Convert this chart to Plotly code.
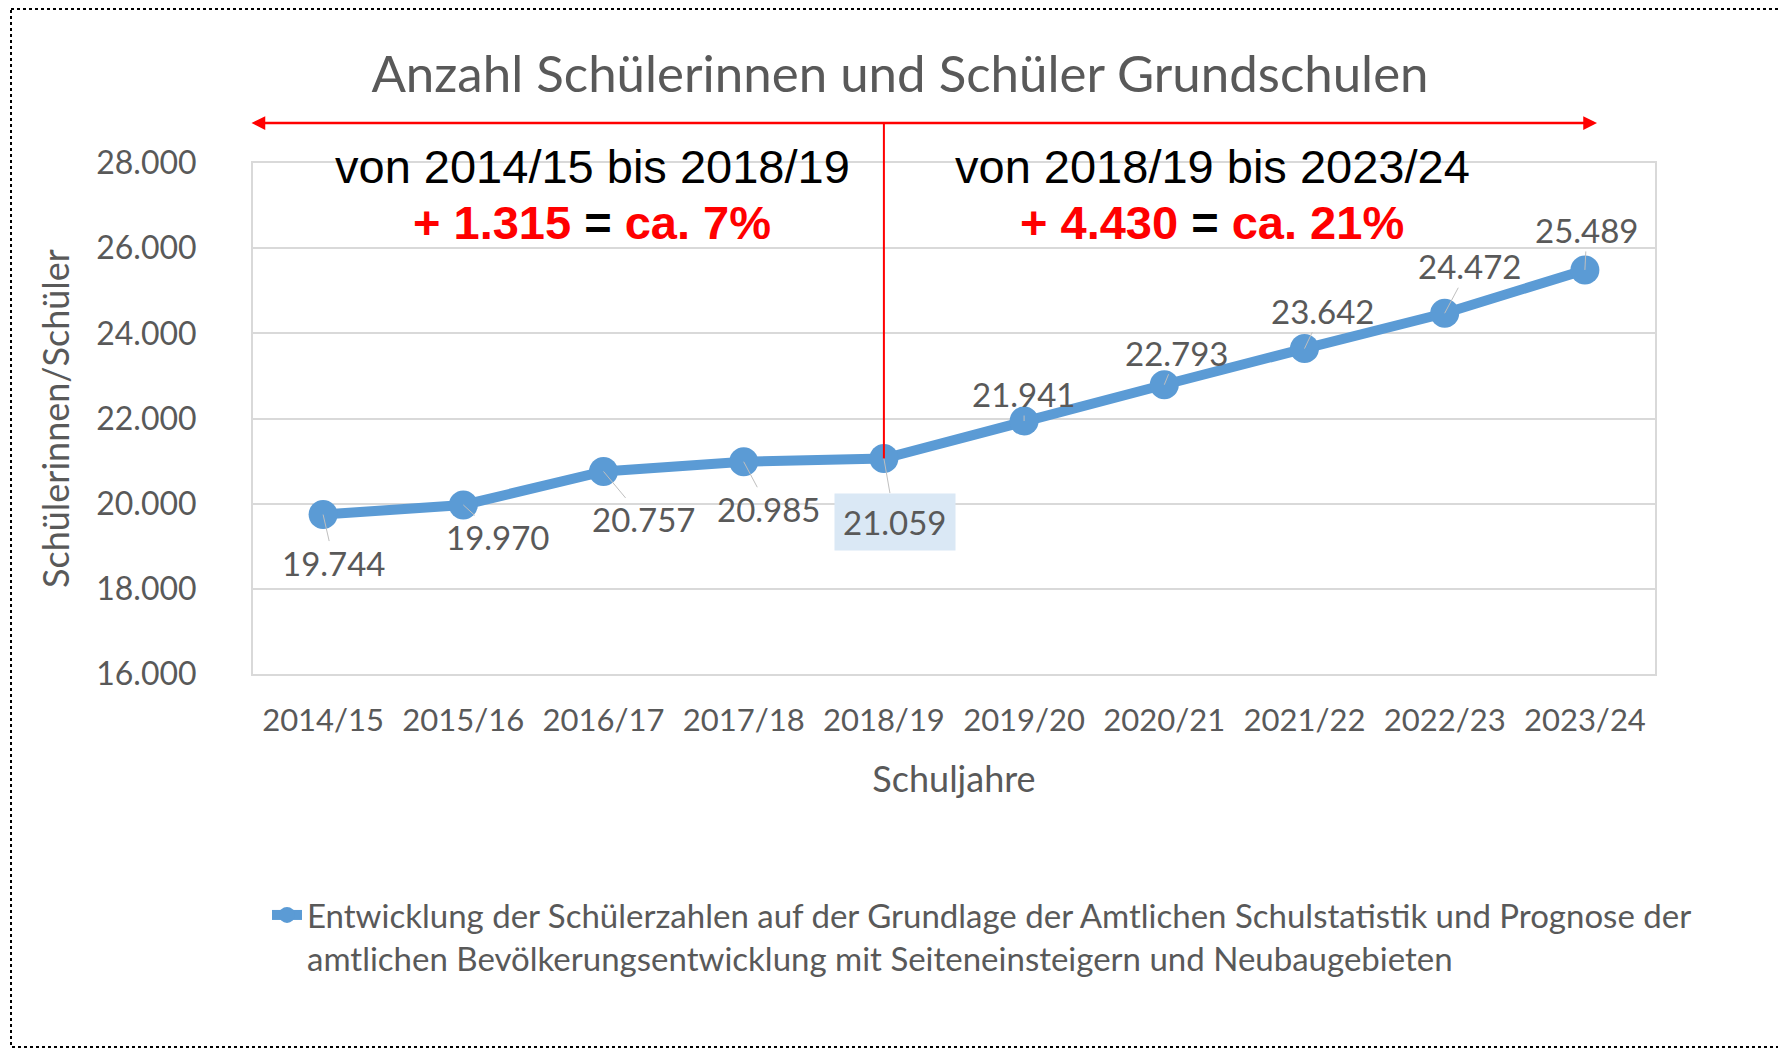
import plotly.graph_objects as go

# ---------------------------------------------------------------------------
# Data
# ---------------------------------------------------------------------------
schuljahre = ["2014/15", "2015/16", "2016/17", "2017/18", "2018/19",
              "2019/20", "2020/21", "2021/22", "2022/23", "2023/24"]
schueler = [19744, 19970, 20757, 20985, 21059, 21941, 22793, 23642, 24472, 25489]
label_text = ["19.744", "19.970", "20.757", "20.985", "21.059",
              "21.941", "22.793", "23.642", "24.472", "25.489"]
y_ticks = [16000, 18000, 20000, 22000, 24000, 26000, 28000]
y_ticktext = ["16.000", "18.000", "20.000", "22.000", "24.000", "26.000", "28.000"]

left_head = "von 2014/15 bis 2018/19"
left_delta = "+ 1.315"
left_pct = "ca. 7%"
right_head = "von 2018/19 bis 2023/24"
right_delta = "+ 4.430"
right_pct = "ca. 21%"

series_name = ("Entwicklung der Schülerzahlen auf der Grundlage der Amtlichen Schulstatistik und Prognose der<br>"
               "amtlichen Bevölkerungsentwicklung mit Seiteneinsteigern und Neubaugebieten")

# ---------------------------------------------------------------------------
# Layout helpers (page pixel -> paper); the page body adds an 8px offset
# ---------------------------------------------------------------------------
W, H = 1786, 1051
OFF = 8
ML, MR, MT, MB = 245, 139, 155, 385
PW, PH = W - ML - MR, H - MT - MB


def px(x):
    return (x - OFF - ML) / PW


def py(y):
    return (H - MB - (y - OFF)) / PH


BLUE = "#5b9bd5"
GREY = "#595959"
GRID = "#d9d9d9"
RED = "#ff0000"
FONT = "Lato"
ARIAL = "Liberation Sans, Arial"

fig = go.Figure()
fig.add_trace(go.Scatter(
    x=schuljahre, y=schueler,
    mode="lines+markers",
    line=dict(color=BLUE, width=10),
    marker=dict(color=BLUE, size=29),
    name=series_name,
    showlegend=True,
))

# data labels (offsets in pixels, as placed in the original)
offsets = [(11, 48), (35, 32), (40, 48), (25, 47), (11, 63),
           (0, -27), (13, -32), (18, -38), (25, -47), (2, -40)]
for xc, yv, txt, (dx, dy) in zip(schuljahre, schueler, label_text, offsets):
    boxed = xc == "2018/19"
    fig.add_annotation(
        x=xc, y=yv, text=txt, showarrow=True,
        ax=dx, ay=dy, arrowhead=0, arrowwidth=1, arrowcolor="#bfbfbf",
        font=dict(family=FONT, size=33, color=GREY),
        bgcolor="#dae8f5" if boxed else None,
        borderpad=8 if boxed else 1,
    )

# red double arrow above the chart
fig.add_annotation(
    x=px(1597), y=py(123), xref="paper", yref="paper",
    ax=-(1597 - 250), ay=0, axref="pixel", ayref="pixel",
    text="", showarrow=True, arrowhead=2, arrowside="end+start",
    arrowsize=1.1, arrowwidth=2.5, arrowcolor=RED,
)
# vertical red divider at 2018/19
i_split = schuljahre.index("2018/19")
x_split = (i_split + 0.5) / len(schuljahre)
y_split = (schueler[i_split] - y_ticks[0]) / (y_ticks[-1] - y_ticks[0])
fig.add_shape(type="line", xref="paper", yref="paper",
              x0=x_split, x1=x_split, y0=y_split, y1=py(123),
              line=dict(color=RED, width=2))

# period annotations
for cx, head, delta, pct in [(592, left_head, left_delta, left_pct),
                             (1212, right_head, right_delta, right_pct)]:
    fig.add_annotation(x=px(cx), y=py(166), xref="paper", yref="paper",
                       xanchor="center", yanchor="middle",
                       text=head, showarrow=False,
                       font=dict(family=ARIAL, size=47, color="black"))
    fig.add_annotation(
        x=px(cx), y=py(222), xref="paper", yref="paper", showarrow=False,
        xanchor="center", yanchor="middle",
        text=f"<b><span style='color:{RED}'>{delta}</span> = "
             f"<span style='color:{RED}'>{pct}</span></b>",
        font=dict(family=ARIAL, size=47, color="black"))

# dotted frame around everything
fig.add_shape(type="rect", xref="paper", yref="paper",
              x0=px(11), x1=px(1810), y0=py(9), y1=py(1047),
              line=dict(color="black", width=2, dash="dot"))

fig.update_layout(
    width=W, height=H, autosize=False,
    margin=dict(l=ML, r=MR, t=MT, b=MB),
    paper_bgcolor="white", plot_bgcolor="white",
    separators=",.",
    title=dict(text="Anzahl Schülerinnen und Schüler Grundschulen",
               x=(900 - OFF) / W, xanchor="center",
               y=1 - (74 - OFF) / H, yanchor="middle",
               font=dict(family=FONT, size=51, color=GREY)),
    legend=dict(x=px(267), y=py(887), xanchor="left", yanchor="top",
                valign="top", font=dict(family=FONT, size=33, color=GREY),
                bgcolor="rgba(0,0,0,0)"),
)
fig.update_xaxes(
    type="category", range=[-0.5, len(schuljahre) - 0.5],
    showgrid=False, showline=True, mirror=True, linecolor=GRID, linewidth=2,
    ticks="", ticklabelstandoff=18,
    tickfont=dict(family=FONT, size=31, color=GREY),
    title=dict(text="Schuljahre", standoff=30,
               font=dict(family=FONT, size=36, color=GREY)),
)
fig.update_yaxes(
    range=[y_ticks[0], y_ticks[-1]], tickvals=y_ticks, ticktext=y_ticktext,
    showgrid=True, gridcolor=GRID, gridwidth=2, zeroline=False,
    showline=True, mirror=True, linecolor=GRID, linewidth=2,
    ticks="", ticklabelstandoff=48,
    tickfont=dict(family=FONT, size=32, color=GREY),
    title=dict(text="Schülerinnen/Schüler", standoff=16,
               font=dict(family=FONT, size=36, color=GREY)),
)

fig.write_html("out.html")
